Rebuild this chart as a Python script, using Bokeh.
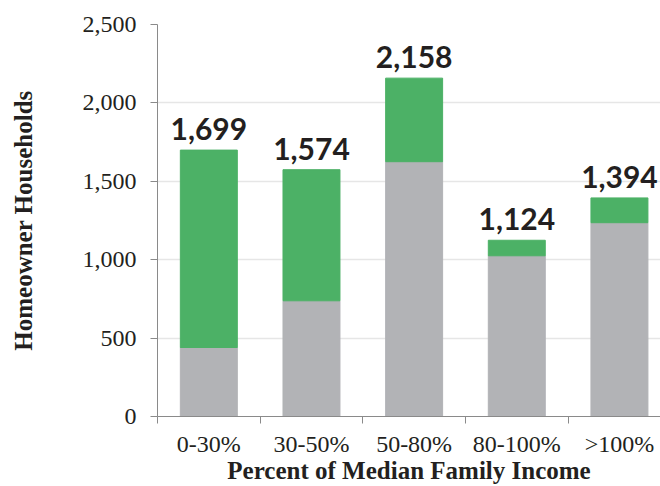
from bokeh.plotting import figure
from bokeh.models import ColumnDataSource, FixedTicker, Range1d, NumeralTickFormatter
from bokeh.embed import file_html
from bokeh.resources import INLINE
from bokeh.core.properties import value

categories = ["0-30%", "30-50%", "50-80%", "80-100%", ">100%"]
gray_values = [440, 738, 1625, 1025, 1236]
totals = [1699, 1574, 2158, 1124, 1394]
total_labels = ["1,699", "1,574", "2,158", "1,124", "1,394"]

GREEN = "#4CB166"
GRAY = "#B2B3B6"

xs = [i + 0.5 for i in range(len(categories))]
green_values = [t - g for t, g in zip(totals, gray_values)]

src = ColumnDataSource(dict(x=xs, gray=gray_values, total=totals,
                            green=green_values, lab=total_labels))

p = figure(width=660, height=486, output_backend="svg", toolbar_location=None,
           x_range=Range1d(0, 4.9), y_range=Range1d(0, 2500),
           min_border_left=157, min_border_right=0, min_border_top=24,
           min_border_bottom=70)
p.outline_line_color = None
p.background_fill_color = "white"
p.border_fill_color = "white"

p.vbar(x="x", bottom=0, top="gray", width=0.555, source=src,
       fill_color=GRAY, line_color=GRAY)
p.vbar(x="x", bottom="gray", top="total", width=0.555, source=src,
       fill_color=GREEN, line_color=GREEN)
p.text(x="x", y="total", text="lab", source=src, text_align="center",
       text_baseline="alphabetic", y_offset=-21,
       text_font=value("Lato"), text_font_style="bold",
       text_font_size="30px", text_color="#231F20")

# x axis
p.xaxis.ticker = FixedTicker(ticks=xs, minor_ticks=[0, 1, 2, 3, 4, 5])
p.xaxis.major_label_overrides = {x: c for x, c in zip(xs, categories)}
p.xaxis.major_tick_out = 0
p.xaxis.major_tick_in = 0
p.xaxis.minor_tick_out = 7
p.xaxis.minor_tick_in = 0
p.xaxis.major_label_standoff = 7
p.xaxis.axis_label = "Percent of Median Family Income"
p.xaxis.axis_label_standoff = -3

# y axis
p.yaxis.ticker = FixedTicker(ticks=[0, 500, 1000, 1500, 2000, 2500])
p.yaxis.formatter = NumeralTickFormatter(format="0,0")
p.yaxis.major_tick_out = 7
p.yaxis.major_tick_in = 0
p.yaxis.minor_tick_out = 0
p.yaxis.minor_tick_in = 0
p.yaxis.major_label_standoff = 14
p.yaxis.axis_label = "Homeowner Households"
p.yaxis.axis_label_standoff = 43

for ax in (p.xaxis, p.yaxis):
    ax.axis_line_color = "#8A8A8A"
    ax.major_tick_line_color = "#8A8A8A"
    ax.minor_tick_line_color = "#8A8A8A"
    ax.major_label_text_font = "Liberation Serif"
    ax.major_label_text_font_size = "24px"
    ax.major_label_text_color = "#231F20"
    ax.axis_label_text_font = "Liberation Serif"
    ax.axis_label_text_font_style = "bold"
    ax.axis_label_text_color = "#231F20"
    ax.axis_label_text_font_size = "25px"

p.xgrid.grid_line_color = None
p.ygrid.grid_line_color = "#E6E6E6"
p.ygrid.grid_line_width = 1.5

open("out.html", "w").write(file_html(p, INLINE))
